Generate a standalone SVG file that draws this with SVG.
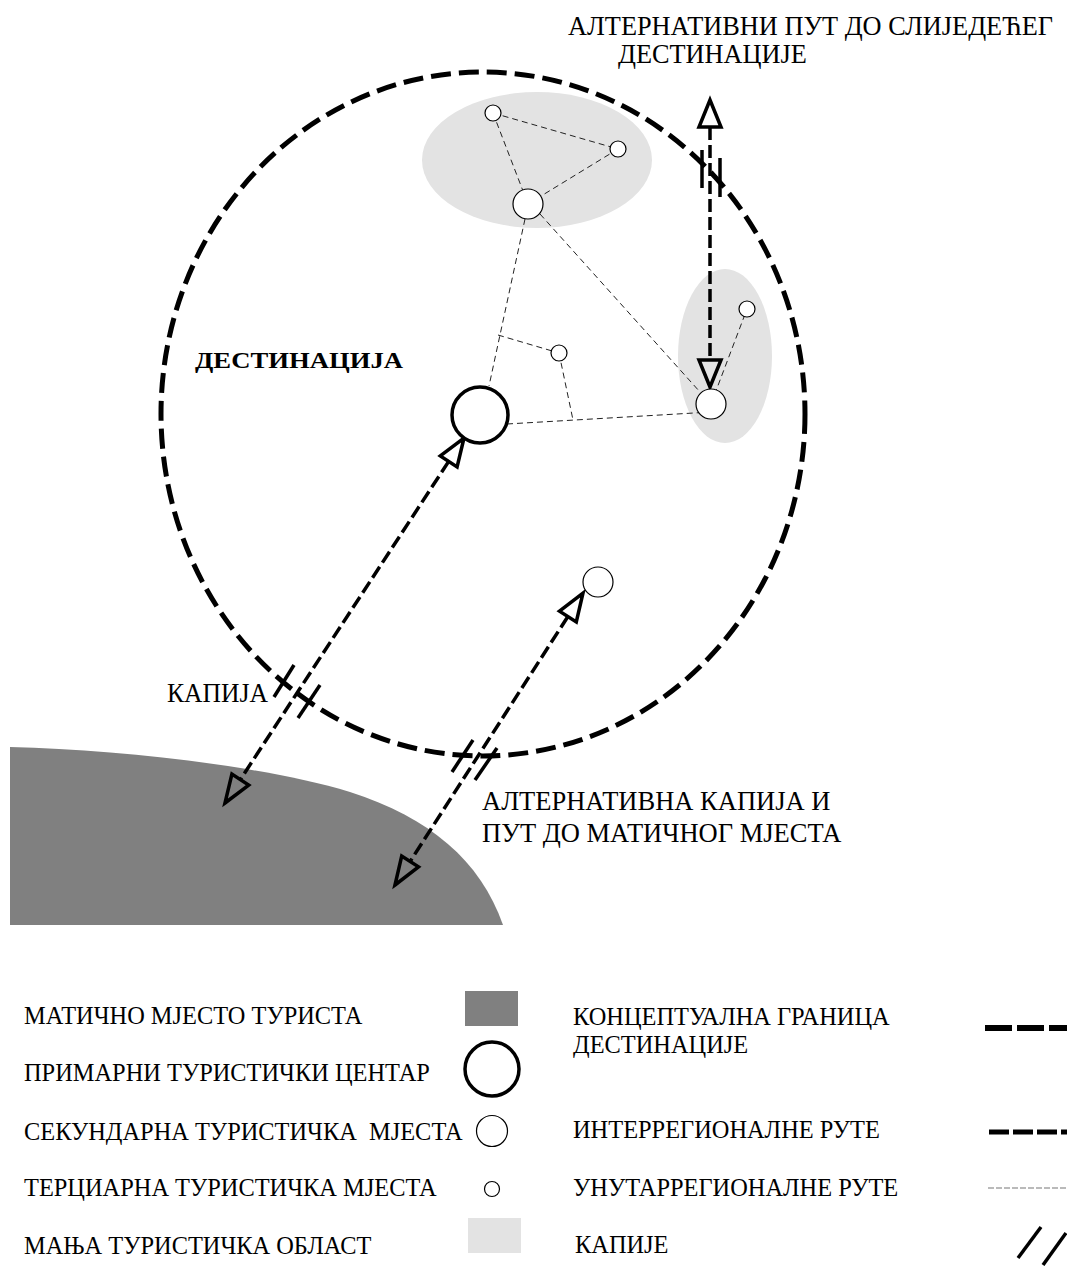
<svg xmlns="http://www.w3.org/2000/svg" width="1067" height="1266" viewBox="0 0 1067 1266">
<style>
.boundary{fill:none;stroke:#000;stroke-width:5;stroke-dasharray:20 8}
.route{fill:none;stroke:#000;stroke-width:3.5;stroke-dasharray:13 5}
.intra{fill:none;stroke:#222;stroke-width:1;stroke-dasharray:6 4}
.head{fill:none;stroke:#000;stroke-width:3.5;stroke-linejoin:miter}
.gate{stroke:#000;stroke-width:3.5;fill:none}
.node{fill:#fff;stroke:#000;stroke-width:1.2}
.primary{fill:#fff;stroke:#000;stroke-width:3.5}
.area{fill:#e3e3e3}
.home{fill:#808080}
text{font-family:"Liberation Serif","Times New Roman",serif;font-size:24.4px;fill:#000}
.big{font-size:26.5px}
.title{font-size:26.3px}
.bold{font-weight:bold;font-size:23px}
</style>
<rect width="1067" height="1266" fill="#fff"/>
<g id="areas">
<ellipse id="area-top" class="area" cx="537" cy="160" rx="115" ry="68"/>
<ellipse id="area-right" class="area" cx="725" cy="356" rx="47" ry="87"/>
<path id="home" class="home" d="M10,747 C120,750 260,765 350,792 C430,818 480,860 503,925 L10,925 Z"/>
</g>
<g id="destination-boundary">
<ellipse class="boundary" cx="483" cy="414" rx="322" ry="342"/>
</g>
<g id="connectors">
<line class="intra" x1="493" y1="113" x2="528" y2="204"/>
<line class="intra" x1="493" y1="113" x2="618" y2="149"/>
<line class="intra" x1="618" y1="149" x2="528" y2="204"/>
<line class="intra" x1="525" y1="219" x2="489" y2="386"/>
<line class="intra" x1="540" y1="214" x2="700" y2="392"/>
<line class="intra" x1="498" y1="335" x2="559" y2="353"/>
<line class="intra" x1="559" y1="353" x2="573" y2="420"/>
<line class="intra" x1="507" y1="424" x2="711" y2="412"/>
<line class="intra" x1="711" y1="404" x2="747" y2="309"/>
<line class="route" x1="448.7" y1="461.4" x2="240.3" y2="779.6"/>
<line class="route" x1="567.9" y1="616.5" x2="410.1" y2="861.5"/>
<line class="route" x1="710" y1="127" x2="710" y2="360"/>
<polygon class="head" points="464,438 457.1,466.9 440.3,455.9"/>
<polygon class="head" points="225,803 248.7,785.1 231.9,774.1"/>
<polygon class="head" points="583,593 576.3,621.9 559.5,611.1"/>
<polygon class="head" points="395,885 418.5,866.9 401.7,856.1"/>
<polygon class="head" points="710,100 721,127 699,127"/>
<polygon class="head" points="710,387 721,360 699,360"/>
<line class="gate" x1="702" y1="150" x2="702" y2="188"/>
<line class="gate" x1="720" y1="158" x2="720" y2="197"/>
<line class="gate" x1="294" y1="665" x2="274" y2="697"/>
<line class="gate" x1="320" y1="685" x2="298" y2="718"/>
<line class="gate" x1="473" y1="740" x2="452" y2="772"/>
<line class="gate" x1="497" y1="748" x2="475" y2="780"/>
</g>
<g id="node-top-small1"><circle class="node" cx="493" cy="113" r="8"/></g>
<g id="node-top-small2"><circle class="node" cx="618" cy="149" r="8"/></g>
<g id="node-top-secondary"><circle class="node" cx="528" cy="204" r="15"/></g>
<g id="node-right-small"><circle class="node" cx="747" cy="309" r="8"/></g>
<g id="node-right-secondary"><circle class="node" cx="711" cy="404" r="15"/></g>
<g id="node-tertiary"><circle class="node" cx="559" cy="353" r="8"/></g>
<g id="node-primary"><circle class="primary" cx="480" cy="415" r="28"/></g>
<g id="node-lower-secondary"><circle class="node" cx="598" cy="582" r="15"/></g>
<g id="labels">
<text class="title" x="568" y="35">АЛТЕРНАТИВНИ ПУТ ДО СЛИЈЕДЕЋЕГ</text>
<text class="title" x="618" y="63">ДЕСТИНАЦИЈЕ</text>
<text class="bold" x="195" y="368" textLength="208" lengthAdjust="spacingAndGlyphs">ДЕСТИНАЦИЈА</text>
<text class="big" x="167" y="702" textLength="101" lengthAdjust="spacingAndGlyphs">КАПИЈА</text>
<text class="big" x="482" y="810">АЛТЕРНАТИВНА КАПИЈА И</text>
<text class="big" x="482" y="842">ПУТ ДО МАТИЧНОГ МЈЕСТА</text>
</g>
<g id="legend">
<text x="24" y="1024">МАТИЧНО МЈЕСТО ТУРИСТА</text>
<text x="24" y="1081">ПРИМАРНИ ТУРИСТИЧКИ ЦЕНТАР</text>
<text x="24" y="1140" xml:space="preserve">СЕКУНДАРНА ТУРИСТИЧКА  МЈЕСТА</text>
<text x="24" y="1196">ТЕРЦИАРНА ТУРИСТИЧКА МЈЕСТА</text>
<text x="24" y="1254">МАЊА ТУРИСТИЧКА ОБЛАСТ</text>
<rect class="home" x="465" y="991" width="53" height="35"/>
<circle class="primary" cx="492" cy="1069" r="27"/>
<circle class="node" cx="492" cy="1131" r="15.5"/>
<circle class="node" cx="492" cy="1189" r="7.5"/>
<rect class="area" x="468" y="1218" width="53" height="35"/>
<text x="573" y="1025">КОНЦЕПТУАЛНА ГРАНИЦА</text>
<text x="573" y="1053">ДЕСТИНАЦИЈЕ</text>
<text x="573" y="1138">ИНТЕРРЕГИОНАЛНЕ РУТЕ</text>
<text x="573" y="1196">УНУТАРРЕГИОНАЛНЕ РУТЕ</text>
<text x="575" y="1253">КАПИЈЕ</text>
<line x1="985" y1="1028" x2="1067" y2="1028" stroke="#000" stroke-width="6" stroke-dasharray="27 5"/>
<line x1="989" y1="1132" x2="1067" y2="1132" stroke="#000" stroke-width="5" stroke-dasharray="20 4"/>
<line x1="988" y1="1188" x2="1067" y2="1188" stroke="#777" stroke-width="1.2" stroke-dasharray="6 2"/>
<line class="gate" x1="1041" y1="1227" x2="1018" y2="1258"/>
<line class="gate" x1="1066" y1="1233" x2="1043" y2="1265"/>
</g>
</svg>
